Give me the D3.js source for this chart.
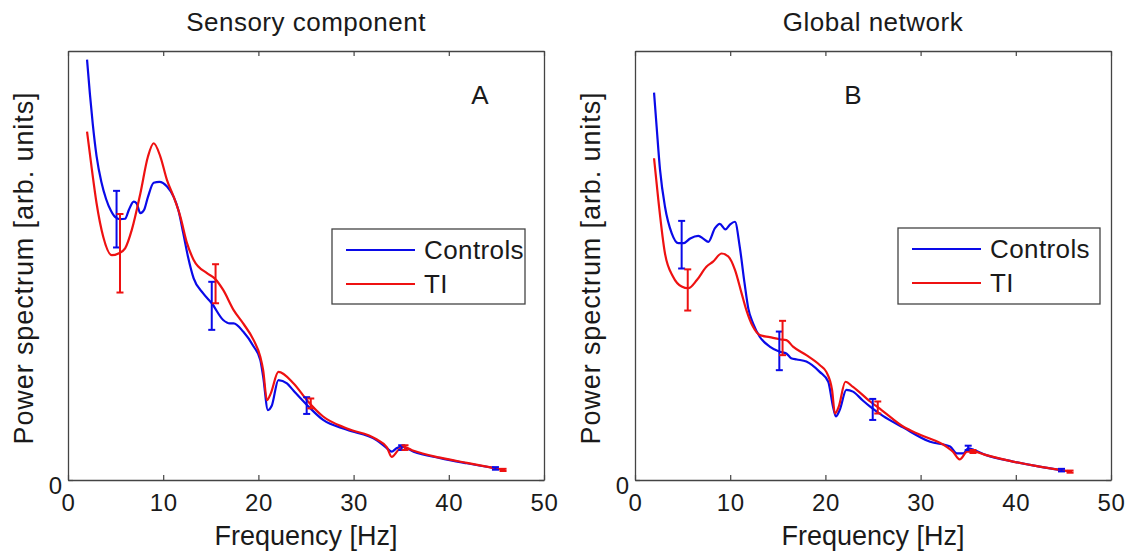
<!DOCTYPE html>
<html>
<head>
<meta charset="utf-8">
<script src="https://cdn.jsdelivr.net/npm/d3@7"></script>
<style>
  html, body { margin: 0; padding: 0; background: #fff; }
  svg { display: block; font-family: "Liberation Sans", Arial, sans-serif; }
</style>
</head>
<body>
<svg id="chart" width="1128" height="554"></svg>
<script>
// ---------- data ----------
const panelTitles = ["Sensory component", "Global network"];
const panelLetters = ["A", "B"];
const seriesNames = ["Controls", "TI"];
const xTickValues = [0, 10, 20, 30, 40, 50];
const yTickValues = [0];

// [frequency Hz, power arb. units]
const sensoryControls = [[2.0,98],[2.3,90],[2.6,83],[3.0,75.5],[3.5,69.5],[4.0,65.5],[4.5,62.8],[5.0,61.2],[5.5,60.8],[6.0,60.9],[6.4,63],[6.9,64.9],[7.2,64.5],[7.6,62.2],[8.0,63],[8.4,66],[9.0,69.3],[9.6,69.5],[10.4,68.4],[11.1,66],[11.6,62.9],[12.1,57.6],[12.6,52.1],[13.2,47],[14.2,43.5],[15.1,41.2],[16.3,37.3],[17.0,36.5],[17.4,36.5],[18.4,34.6],[19.5,31.1],[20.2,28],[20.5,24.1],[21.0,16.3],[21.4,17.3],[22.1,23.3],[23.0,22.5],[23.7,20.8],[25.1,17.5],[26.8,14],[29.3,11.7],[32.4,9.3],[33.5,7.4],[34.0,6.6],[34.5,7.4],[35.05,7.8],[36.3,6.6],[39.1,5.1],[41.9,3.9],[45.0,2.7]];
const sensoryTI = [[2.0,81.2],[2.5,72.5],[3.0,64.5],[3.7,56.7],[4.6,52.4],[5.3,52.8],[6.0,54],[6.7,58.3],[7.6,66.8],[8.4,75.4],[9.0,78.5],[9.7,75.4],[10.4,69.9],[11.1,66],[11.8,61.4],[12.5,55.2],[13.2,51.3],[14.6,48.2],[15.4,47],[16.3,44.3],[17.4,39.6],[18.4,36.5],[19.5,32.6],[20.2,28.7],[20.5,25.6],[20.9,18.6],[21.3,20.2],[22.1,25.2],[23.7,22.5],[25.1,18.6],[26.8,14.8],[29.3,12],[32.4,9.5],[33.5,7.6],[34.0,5.4],[34.7,7.0],[35.2,7.8],[36.3,6.8],[39.1,5.2],[41.9,4.0],[45.9,2.3]];
const globalControls = [[2.0,90.3],[2.27,82.4],[2.63,72.3],[3.15,63.7],[3.86,57.5],[4.55,55.2],[5.1,55.2],[5.8,56.3],[6.65,56.9],[7.2,56.2],[7.7,55.5],[8.4,58.7],[8.9,59.7],[9.5,58.4],[10.0,59.6],[10.5,60.2],[11.0,54.4],[11.5,46],[11.9,40],[12.4,36.5],[13.1,33.4],[14.15,31.1],[15.2,29.9],[15.9,29.5],[16.4,28.4],[17.0,28.1],[18.0,27.6],[19.4,25.2],[20.3,22.9],[20.8,17.1],[21.1,14.8],[21.5,16.3],[22.2,21],[22.9,20.6],[23.9,18.6],[24.7,17.1],[26,15],[28.2,12.2],[31.0,8.9],[33.1,7.8],[33.8,6.2],[34.5,6.2],[35.0,7.4],[35.6,7.0],[36.9,5.8],[39.7,4.3],[42.5,3.1],[44.8,2.3]];
const globalTI = [[2.0,75],[2.45,65.3],[3.15,52.8],[4.0,47.4],[4.9,45.1],[5.6,44.7],[6.5,46.6],[7.5,49.7],[8.2,50.9],[9.1,52.8],[9.8,52.1],[10.5,49],[11.2,43.5],[11.7,39.6],[12.4,35.7],[13.1,33.8],[14.15,33.3],[15.2,32.8],[15.9,32.6],[16.6,31.1],[18.0,29.1],[19.4,26.8],[20.1,25.2],[20.7,21],[21.0,15.5],[21.4,17.1],[22.1,22.9],[22.9,21.7],[24.7,18.3],[25.9,16.3],[28.2,12.4],[30.0,10.5],[32.7,7.8],[33.4,6.6],[34.1,4.8],[34.9,6.6],[35.6,6.6],[36.9,5.8],[39.7,4.3],[42.5,3.1],[45.9,1.9]];

// error bars: [frequency, low, high]
const sensoryControlsErr = [[5.1,54.2,67.4],[15.1,35.0,46.2],[25.07,15.4,19.3],[35.05,7.0,8.1],[44.9,2.4,3.0]];
const sensoryTIErr = [[5.46,43.7,62.0],[15.5,41.2,50.3],[25.5,16.7,19.0],[35.4,7.0,8.1],[45.7,2.1,2.6]];
const globalControlsErr = [[4.9,49.3,60.4],[15.16,25.6,34.6],[24.97,14.0,18.9],[35.0,7.0,8.0],[44.8,2.0,2.6]];
const globalTIErr = [[5.54,39.5,49.1],[15.5,29.1,37.1],[25.5,15.5,18.3],[35.5,6.3,7.0],[45.7,1.7,2.2]];

const colors = ["#0a0ae8", "#ee1111"];

// ---------- layout ----------
const svg = d3.select("#chart");
const panels = [
  { left: 68, right: 544, top: 51, bottom: 480, lines: [sensoryControls, sensoryTI], errs: [sensoryControlsErr, sensoryTIErr],
    letter: [480, 104], legend: { x: 332, y: 229, w: 193, h: 75 } },
  { left: 635, right: 1111, top: 51, bottom: 480, lines: [globalControls, globalTI], errs: [globalControlsErr, globalTIErr],
    letter: [853, 104], legend: { x: 898, y: 228, w: 202, h: 76 } }
];

panels.forEach((p, i) => {
  const x = d3.scaleLinear().domain([0, 50]).range([p.left, p.right]);
  const y = d3.scaleLinear().domain([0, 100]).range([p.bottom, p.top]);
  const g = svg.append("g");

  // title
  g.append("text").attr("x", (p.left + p.right) / 2).attr("y", 31)
    .attr("text-anchor", "middle").attr("font-size", 26).attr("letter-spacing", 0.5)
    .attr("fill", "#1a1a1a").text(panelTitles[i]);

  // axes
  const axB = g.append("g").attr("transform", `translate(0,${p.bottom})`)
    .call(d3.axisBottom(x).tickValues(xTickValues).tickSizeInner(-5).tickSizeOuter(0).tickPadding(14));
  const axT = g.append("g").attr("transform", `translate(0,${p.top})`)
    .call(d3.axisTop(x).tickValues(xTickValues).tickSizeInner(-5).tickSizeOuter(0).tickFormat(""));
  const axL = g.append("g").attr("transform", `translate(${p.left},0)`)
    .call(d3.axisLeft(y).tickValues(yTickValues).tickSizeInner(-5).tickSizeOuter(0).tickPadding(6));
  const axR = g.append("g").attr("transform", `translate(${p.right},0)`)
    .call(d3.axisRight(y).tickValues(yTickValues).tickSizeInner(-5).tickSizeOuter(0).tickFormat(""));
  [axB, axT, axL, axR].forEach(a => {
    a.select(".domain").attr("stroke", "#444").attr("stroke-width", 1.3);
    a.selectAll(".tick line").attr("stroke", "#444").attr("stroke-width", 1.2);
    a.selectAll("text").attr("font-size", 24).attr("fill", "#1a1a1a").attr("font-family", "Liberation Sans, Arial, sans-serif");
  });
  axB.selectAll("text").attr("letter-spacing", 0.6);
  axL.selectAll("text").attr("dy", "0.55em");

  // axis labels
  g.append("text").attr("x", (p.left + p.right) / 2).attr("y", 545)
    .attr("text-anchor", "middle").attr("font-size", 27).attr("fill", "#1a1a1a").text("Frequency [Hz]");
  g.append("text").attr("transform", `translate(${p.left - 35},268) rotate(-90)`)
    .attr("text-anchor", "middle").attr("font-size", 27).attr("letter-spacing", 0.9).attr("fill", "#1a1a1a")
    .text("Power spectrum [arb. units]");

  // panel letter
  g.append("text").attr("x", p.letter[0]).attr("y", p.letter[1]).attr("text-anchor", "middle")
    .attr("font-size", 26).attr("fill", "#1a1a1a").text(panelLetters[i]);

  // lines
  const line = d3.line().x(d => x(d[0])).y(d => y(d[1])).curve(d3.curveMonotoneX);
  p.lines.forEach((data, k) => {
    g.append("path").datum(data).attr("d", line).attr("fill", "none")
      .attr("stroke", colors[k]).attr("stroke-width", 2.2).attr("stroke-linejoin", "round");
  });

  // error bars
  p.errs.forEach((errs, k) => {
    const eg = g.append("g").attr("stroke", colors[k]).attr("stroke-width", 2);
    errs.forEach(e => {
      eg.append("line").attr("x1", x(e[0])).attr("x2", x(e[0])).attr("y1", y(e[1])).attr("y2", y(e[2]));
      eg.append("line").attr("x1", x(e[0]) - 3.5).attr("x2", x(e[0]) + 3.5).attr("y1", y(e[1])).attr("y2", y(e[1]));
      eg.append("line").attr("x1", x(e[0]) - 3.5).attr("x2", x(e[0]) + 3.5).attr("y1", y(e[2])).attr("y2", y(e[2]));
    });
  });

  // legend
  const L = p.legend;
  const lg = g.append("g").attr("transform", `translate(${L.x},${L.y})`);
  lg.append("rect").attr("width", L.w).attr("height", L.h).attr("fill", "#fff")
    .attr("stroke", "#444").attr("stroke-width", 1.3);
  seriesNames.forEach((name, k) => {
    const cy = 21 + k * 34;
    lg.append("line").attr("x1", 14).attr("x2", 83).attr("y1", cy).attr("y2", cy)
      .attr("stroke", colors[k]).attr("stroke-width", 2.2);
    lg.append("text").attr("x", 92).attr("y", cy).attr("dy", "0.36em").attr("font-size", 26)
      .attr("letter-spacing", 0.4).attr("fill", "#1a1a1a").text(name);
  });
});
</script>
</body>
</html>
